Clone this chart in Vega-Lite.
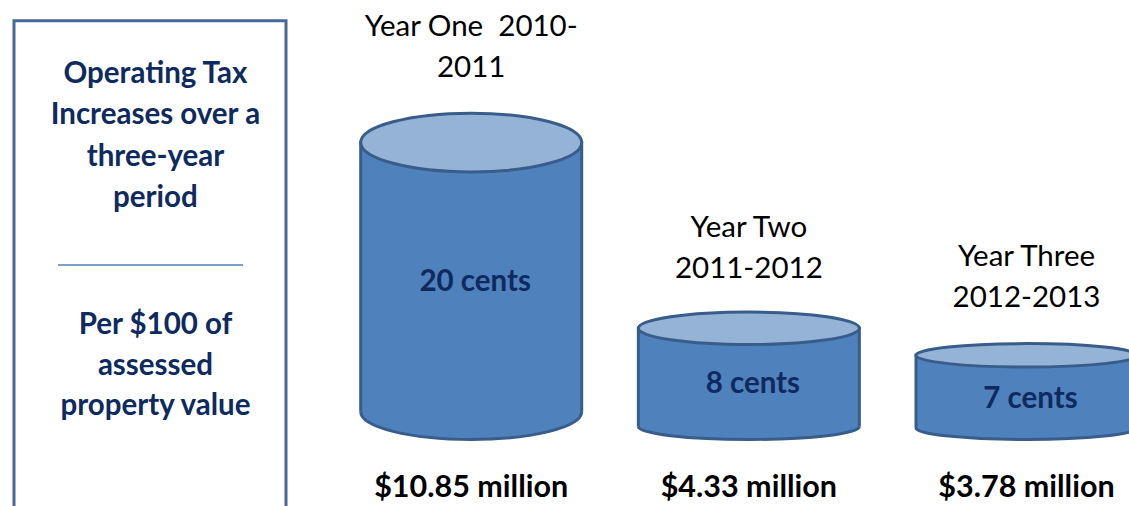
{
  "$schema": "https://vega.github.io/schema/vega-lite/v6.json",
  "width": 1129,
  "height": 506,
  "autosize": {"type": "fit", "contains": "padding"},
  "padding": 0,
  "background": "white",
  "config": {"view": {"stroke": null}, "font": "Lato"},
  "datasets": {
    "panel": [
      {"heading": "Operating Tax\nIncreases over a\nthree-year\nperiod", "unit": "Per $100 of\nassessed\nproperty value"}
    ],
    "levy": [
      {"year": "Year One", "period": "Year One\u00a0 2010-\n2011", "cents": 20, "rate": "20 cents", "revenue": "$10.85 million"},
      {"year": "Year Two", "period": "Year Two\n2011-2012", "cents": 8, "rate": "8 cents", "revenue": "$4.33 million"},
      {"year": "Year Three", "period": "Year Three\n2012-2013", "cents": 7, "rate": "7 cents", "revenue": "$3.78 million"}
    ]
  },
  "resolve": {"scale": {"x": "independent", "y": "independent"}},
  "layer": [
    {
      "data": {"name": "panel"},
      "layer": [
        {
          "mark": {"type": "rect", "fill": "white", "stroke": "#46689A", "strokeWidth": 3, "clip": true},
          "encoding": {
            "x": {"datum": 0, "type": "quantitative", "scale": {"domain": [0, 1], "range": [14, 286], "nice": false, "zero": false}, "axis": null},
            "x2": {"datum": 1},
            "y": {"datum": 0.041, "type": "quantitative", "scale": {"domain": [0, 1], "reverse": true, "nice": false, "zero": false}, "axis": null},
            "y2": {"datum": 1.06}
          }
        },
        {
          "mark": {"type": "rule", "stroke": "#4F81BD", "strokeWidth": 1.5},
          "encoding": {
            "x": {"datum": 0.162, "type": "quantitative"},
            "x2": {"datum": 0.842},
            "y": {"datum": 0.5237, "type": "quantitative"}
          }
        },
        {
          "mark": {"type": "text", "font": "Lato", "fontWeight": "bold", "fontSize": 29.5, "lineHeight": 41.4, "lineBreak": "\n", "color": "#0E2A5E", "align": "center", "baseline": "middle"},
          "encoding": {
            "x": {"datum": 0.52, "type": "quantitative"},
            "y": {"datum": 0.1462, "type": "quantitative"},
            "text": {"field": "heading"}
          }
        },
        {
          "mark": {"type": "text", "font": "Lato", "fontWeight": "bold", "fontSize": 29.5, "lineHeight": 40.5, "lineBreak": "\n", "color": "#0E2A5E", "align": "center", "baseline": "middle"},
          "encoding": {
            "x": {"datum": 0.52, "type": "quantitative"},
            "y": {"datum": 0.6423, "type": "quantitative"},
            "text": {"field": "unit"}
          }
        }
      ]
    },
    {
      "data": {"name": "levy"},
      "resolve": {"scale": {"shape": "independent"}},
      "encoding": {
        "x": {"field": "year", "type": "nominal", "sort": null, "scale": {"type": "point", "domain": ["Year One", "Year Two", "Year Three"], "range": [471.2, 1026.5], "padding": 0}, "axis": null}
      },
      "layer": [
        {
          "mark": {"type": "bar", "width": 221, "fill": "#4F81BD", "stroke": "#385D8A", "strokeWidth": 3, "clip": true},
          "encoding": {
            "y": {"field": "cents", "type": "quantitative", "scale": {"type": "log", "domain": [3.329, 40.4], "nice": false, "zero": false}, "axis": null},
            "y2": {"datum": 4.622}
          }
        },
        {
          "mark": {"type": "point", "filled": true, "fill": "white", "strokeWidth": 0, "opacity": 1, "size": 48841, "clip": true},
          "encoding": {
            "y": {"datum": 4.622, "type": "quantitative"},
            "shape": {"field": "year", "type": "nominal", "legend": null, "scale": {"domain": ["Year One", "Year Two", "Year Three"], "range": [
              "M-1.04,-0.25L-1,-0.25A1,0.25,0,0,0,1,-0.25L1.04,-0.25L1.04,0.05L-1.04,0.05Z",
              "M-1.04,-0.118L-1,-0.118A1,0.118,0,0,0,1,-0.118L1.04,-0.118L1.04,0.05L-1.04,0.05Z",
              "M-1.04,-0.105L-1,-0.105A1,0.105,0,0,0,1,-0.105L1.04,-0.105L1.04,0.05L-1.04,0.05Z"
            ]}}
          }
        },
        {
          "mark": {"type": "point", "filled": false, "stroke": "#385D8A", "strokeWidth": 3, "opacity": 1, "size": 48841, "clip": true},
          "encoding": {
            "y": {"datum": 4.622, "type": "quantitative"},
            "shape": {"field": "year", "type": "nominal", "legend": null, "scale": {"domain": ["Year One", "Year Two", "Year Three"], "range": [
              "M-1,-0.25A1,0.25,0,0,0,1,-0.25",
              "M-1,-0.118A1,0.118,0,0,0,1,-0.118",
              "M-1,-0.105A1,0.105,0,0,0,1,-0.105"
            ]}}
          }
        },
        {
          "mark": {"type": "point", "filled": true, "fill": "#95B3D7", "stroke": "#385D8A", "strokeWidth": 3, "opacity": 1, "size": 48841, "clip": true},
          "encoding": {
            "y": {"field": "cents", "type": "quantitative"},
            "shape": {"field": "year", "type": "nominal", "legend": null, "scale": {"domain": ["Year One", "Year Two", "Year Three"], "range": [
              "M-1,0A1,0.266,0,1,1,1,0A1,0.266,0,1,1,-1,0Z",
              "M-1,0A1,0.147,0,1,1,1,0A1,0.147,0,1,1,-1,0Z",
              "M-1,0A1,0.106,0,1,1,1,0A1,0.106,0,1,1,-1,0Z"
            ]}}
          }
        },
        {
          "mark": {"type": "text", "font": "Lato", "fontWeight": "bold", "fontSize": 30.5, "color": "black", "align": "center", "baseline": "middle", "dy": 48.5},
          "encoding": {
            "y": {"datum": 4.622, "type": "quantitative"},
            "text": {"field": "revenue"}
          }
        }
      ]
    },
    {
      "data": {"name": "levy"},
      "mark": {"type": "text", "font": "Lato", "fontSize": 29.5, "lineHeight": 41, "lineBreak": "\n", "color": "black", "align": "center", "baseline": "middle"},
      "encoding": {
        "x": {"field": "year", "type": "nominal", "sort": null, "scale": {"type": "point", "domain": ["Year One", "Year Two", "Year Three"], "range": [471.2, 1026.5], "padding": 0}, "axis": null},
        "y": {"field": "cents", "type": "quantitative", "scale": {"type": "log", "domain": [2.2527, 22.61], "nice": false, "zero": false}, "axis": null},
        "text": {"field": "period"}
      }
    },
    {
      "data": {"name": "levy"},
      "mark": {"type": "text", "font": "Lato", "fontWeight": "bold", "fontSize": 29.5, "color": "#0E2A5E", "align": "center", "baseline": "middle", "dx": 4},
      "encoding": {
        "x": {"field": "year", "type": "nominal", "sort": null, "scale": {"type": "point", "domain": ["Year One", "Year Two", "Year Three"], "range": [471.2, 1026.5], "padding": 0}, "axis": null},
        "y": {"field": "cents", "type": "quantitative", "scale": {"type": "log", "domain": [2.678, 250.4], "nice": false, "zero": false}, "axis": null},
        "text": {"field": "rate"}
      }
    }
  ]
}
